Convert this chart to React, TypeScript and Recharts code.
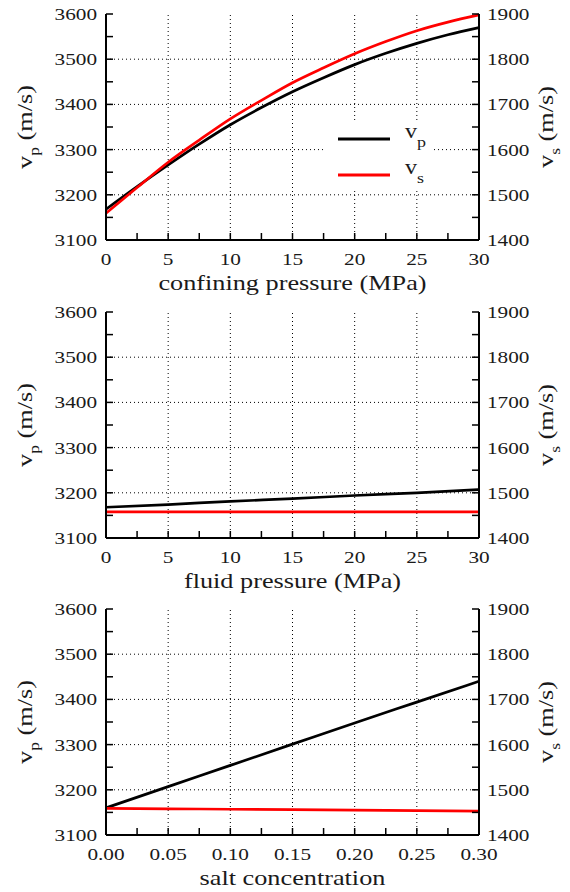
import React from 'react';
import { LineChart, Line, XAxis, YAxis, ReferenceLine } from 'recharts';

// confining pressure sweep (MPa)
const confPressure = [0, 2.5, 5, 7.5, 10, 12.5, 15, 17.5, 20, 22.5, 25, 27.5, 30];
const vpConf = [3168, 3218, 3266, 3312, 3355, 3393, 3428, 3459, 3488, 3513, 3535, 3554, 3570];
const vsConf = [1459, 1516, 1572, 1621, 1668, 1709, 1748, 1781, 1812, 1839, 1863, 1882, 1898];

// fluid pressure sweep (MPa)
const fluidPressure = [0, 5, 10, 15, 20, 25, 30];
const vpFluid = [3168, 3174, 3181, 3187, 3194, 3200, 3207];
const vsFluid = [1458, 1458, 1458, 1458, 1458, 1458, 1458];

// salt concentration sweep
const saltConc = [0, 0.05, 0.1, 0.15, 0.2, 0.25, 0.3];
const vpSalt = [3160, 3207, 3254, 3301, 3348, 3394, 3440];
const vsSalt = [1459, 1458, 1457, 1456, 1455, 1454, 1453];

// ticks
const pressTicks = [0, 2.5, 5, 7.5, 10, 12.5, 15, 17.5, 20, 22.5, 25, 27.5, 30];
const pressMajor = [0, 5, 10, 15, 20, 25, 30];
const saltTicks = [0, 0.025, 0.05, 0.075, 0.1, 0.125, 0.15, 0.175, 0.2, 0.225, 0.25, 0.275, 0.3];
const saltMajor = [0, 0.05, 0.1, 0.15, 0.2, 0.25, 0.3];
const vpTicks = [3100, 3150, 3200, 3250, 3300, 3350, 3400, 3450, 3500, 3550, 3600];
const vpMajor = [3100, 3200, 3300, 3400, 3500, 3600];
const vsTicks = [1400, 1450, 1500, 1550, 1600, 1650, 1700, 1750, 1800, 1850, 1900];
const vsMajor = [1400, 1500, 1600, 1700, 1800, 1900];

const series = [
  { key: 'vp', sub: 'p', color: '#000000' },
  { key: 'vs', sub: 's', color: '#ff0000' },
];

const FONT = 'Liberation Serif, Times New Roman, Times, serif';
const INK = '#1a1a1a';
const TICK_LEN = 7;
const STRETCH = 1.25;

const isMajor = (majors: number[], v: number) => majors.some(m => Math.abs(m - v) < 1e-9);

// stretched serif text, the original lettering is wider than plain Times
const SText = ({ x, y, anchor = 'middle', size = 17, children }: any) => (
  <text transform={`translate(${x},${y}) scale(${STRETCH},1)`} textAnchor={anchor}
    style={{ fontFamily: FONT, fontSize: size }} fill={INK}>{children}</text>
);

const makeTick = (side: string, majors: number[], fmt: (v: number) => string) => (props: any) => {
  const { x, y, payload } = props;
  const v = payload.value;
  const lab = isMajor(majors, v) ? fmt(v) : null;
  const ln = { stroke: '#000', strokeWidth: 1.5 };
  if (side === 'left') return (
    <g>
      <line x1={x} x2={x + TICK_LEN} y1={y} y2={y} {...ln} />
      {lab && <SText x={x - 9} y={y + 6} anchor="end">{lab}</SText>}
    </g>
  );
  if (side === 'right') return (
    <g>
      <line x1={x - TICK_LEN} x2={x} y1={y} y2={y} {...ln} />
      {lab && <SText x={x + 8} y={y + 6} anchor="start">{lab}</SText>}
    </g>
  );
  if (side === 'top') return <line x1={x} x2={x} y1={y} y2={y + TICK_LEN} {...ln} />;
  return (
    <g>
      <line x1={x} x2={x} y1={y - TICK_LEN} y2={y} {...ln} />
      {lab && <SText x={x} y={y + 25}>{lab}</SText>}
    </g>
  );
};

const VTitle = ({ bx, cy, sub }: any) => (
  <g transform={`translate(${bx},${cy}) rotate(-90)`}>
    <text transform={`scale(${STRETCH},1)`} textAnchor="middle" style={{ fontFamily: FONT, fontSize: 21 }} fill={INK}>
      v<tspan style={{ fontSize: 14 }} dy={7}>{sub}</tspan><tspan dy={-7}> (m/s)</tspan>
    </text>
  </g>
);

interface PanelProps {
  xs: number[];
  vp: number[];
  vs: number[];
  xTicks: number[];
  xMajor: number[];
  xFmt: (v: number) => string;
  xTitle: string;
  top: number;
  legend?: boolean;
}

const Panel: React.FC<PanelProps> = ({ xs, vp, vs, xTicks, xMajor, xFmt, xTitle, top, legend }) => {
  const data = xs.map((x, i) => ({ x, vp: vp[i], vs: vs[i] }));
  const xDom = [xMajor[0], xMajor[xMajor.length - 1]];
  const axisLine = { stroke: '#000', strokeWidth: 2 };
  return (
    <div style={{ position: 'absolute', left: 0, top, width: 570, height: 297 }}>
      <LineChart width={570} height={297} data={data} margin={{ top: 14, right: 0, bottom: 0, left: 0 }}>
        <XAxis dataKey="x" type="number" domain={xDom} ticks={xTicks} interval={0}
          height={57} tickSize={0} tickMargin={0} tickLine={false} axisLine={axisLine}
          tick={makeTick('bottom', xMajor, xFmt)}
          label={{
            content: (p: any) => {
              const vb = p.viewBox || { x: 106, y: 240, width: 373 };
              return <SText x={vb.x + vb.width / 2} y={vb.y + 50} size={21}>{xTitle}</SText>;
            }
          }} />
        <XAxis xAxisId="top" orientation="top" dataKey="x" type="number" domain={xDom} ticks={xTicks}
          interval={0} height={0} tickSize={0} tickMargin={0} tickLine={false} axisLine={axisLine}
          tick={makeTick('top', xMajor, xFmt)} />
        <YAxis yAxisId="left" type="number" domain={[3100, 3600]} ticks={vpTicks} interval={0}
          width={106} tickSize={0} tickMargin={0} tickLine={false} axisLine={axisLine}
          tick={makeTick('left', vpMajor, v => String(v))}
          label={{
            content: (p: any) => {
              const vb = p.viewBox || { x: 0, y: 14, height: 226 };
              return <VTitle bx={vb.x + 32} cy={vb.y + vb.height / 2} sub="p" />;
            }
          }} />
        <YAxis yAxisId="right" orientation="right" type="number" domain={[1400, 1900]} ticks={vsTicks}
          interval={0} width={91} tickSize={0} tickMargin={0} tickLine={false} axisLine={axisLine}
          tick={makeTick('right', vsMajor, v => String(v))}
          label={{
            content: (p: any) => {
              const vb = p.viewBox || { x: 479, y: 14, height: 226 };
              return <VTitle bx={vb.x + 74} cy={vb.y + vb.height / 2} sub="s" />;
            }
          }} />
        {xMajor.slice(1, -1).map(v => (
          <ReferenceLine key={'gx' + v} x={v} yAxisId="left" stroke="#000" strokeWidth={1} strokeDasharray="1 3" />
        ))}
        {vpMajor.slice(1, -1).map(v => (
          <ReferenceLine key={'gy' + v} y={v} yAxisId="left" stroke="#000" strokeWidth={1} strokeDasharray="1 3" />
        ))}
        <Line yAxisId="left" type="monotone" dataKey="vp" stroke={series[0].color} strokeWidth={2.7}
          dot={false} isAnimationActive={false} />
        <Line yAxisId="right" type="monotone" dataKey="vs" stroke={series[1].color} strokeWidth={2.7}
          dot={false} isAnimationActive={false} />
      </LineChart>
      {legend && (
        <svg style={{ position: 'absolute', left: 325, top: 120, background: '#fff' }} width={107} height={70}>
          {series.map((s, i) => (
            <g key={s.key} transform={`translate(0,${19 + i * 36})`}>
              <line x1={13} x2={65} y1={0} y2={0} stroke={s.color} strokeWidth={3} />
              <text transform="translate(80,-1) scale(1.2,1)" style={{ fontFamily: FONT, fontSize: 20 }} fill={INK}>
                v<tspan style={{ fontSize: 15 }} dy={9}>{s.sub}</tspan>
              </text>
            </g>
          ))}
        </svg>
      )}
    </div>
  );
};

export default function App() {
  return (
    <div style={{ position: 'absolute', left: 0, top: 0, width: 570, height: 892, background: '#fff' }}>
      <Panel xs={confPressure} vp={vpConf} vs={vsConf} xTicks={pressTicks} xMajor={pressMajor}
        xFmt={v => String(v)} xTitle="confining pressure (MPa)" top={0} legend />
      <Panel xs={fluidPressure} vp={vpFluid} vs={vsFluid} xTicks={pressTicks} xMajor={pressMajor}
        xFmt={v => String(v)} xTitle="fluid pressure (MPa)" top={298} />
      <Panel xs={saltConc} vp={vpSalt} vs={vsSalt} xTicks={saltTicks} xMajor={saltMajor}
        xFmt={v => v.toFixed(2)} xTitle="salt concentration" top={595} />
    </div>
  );
}
